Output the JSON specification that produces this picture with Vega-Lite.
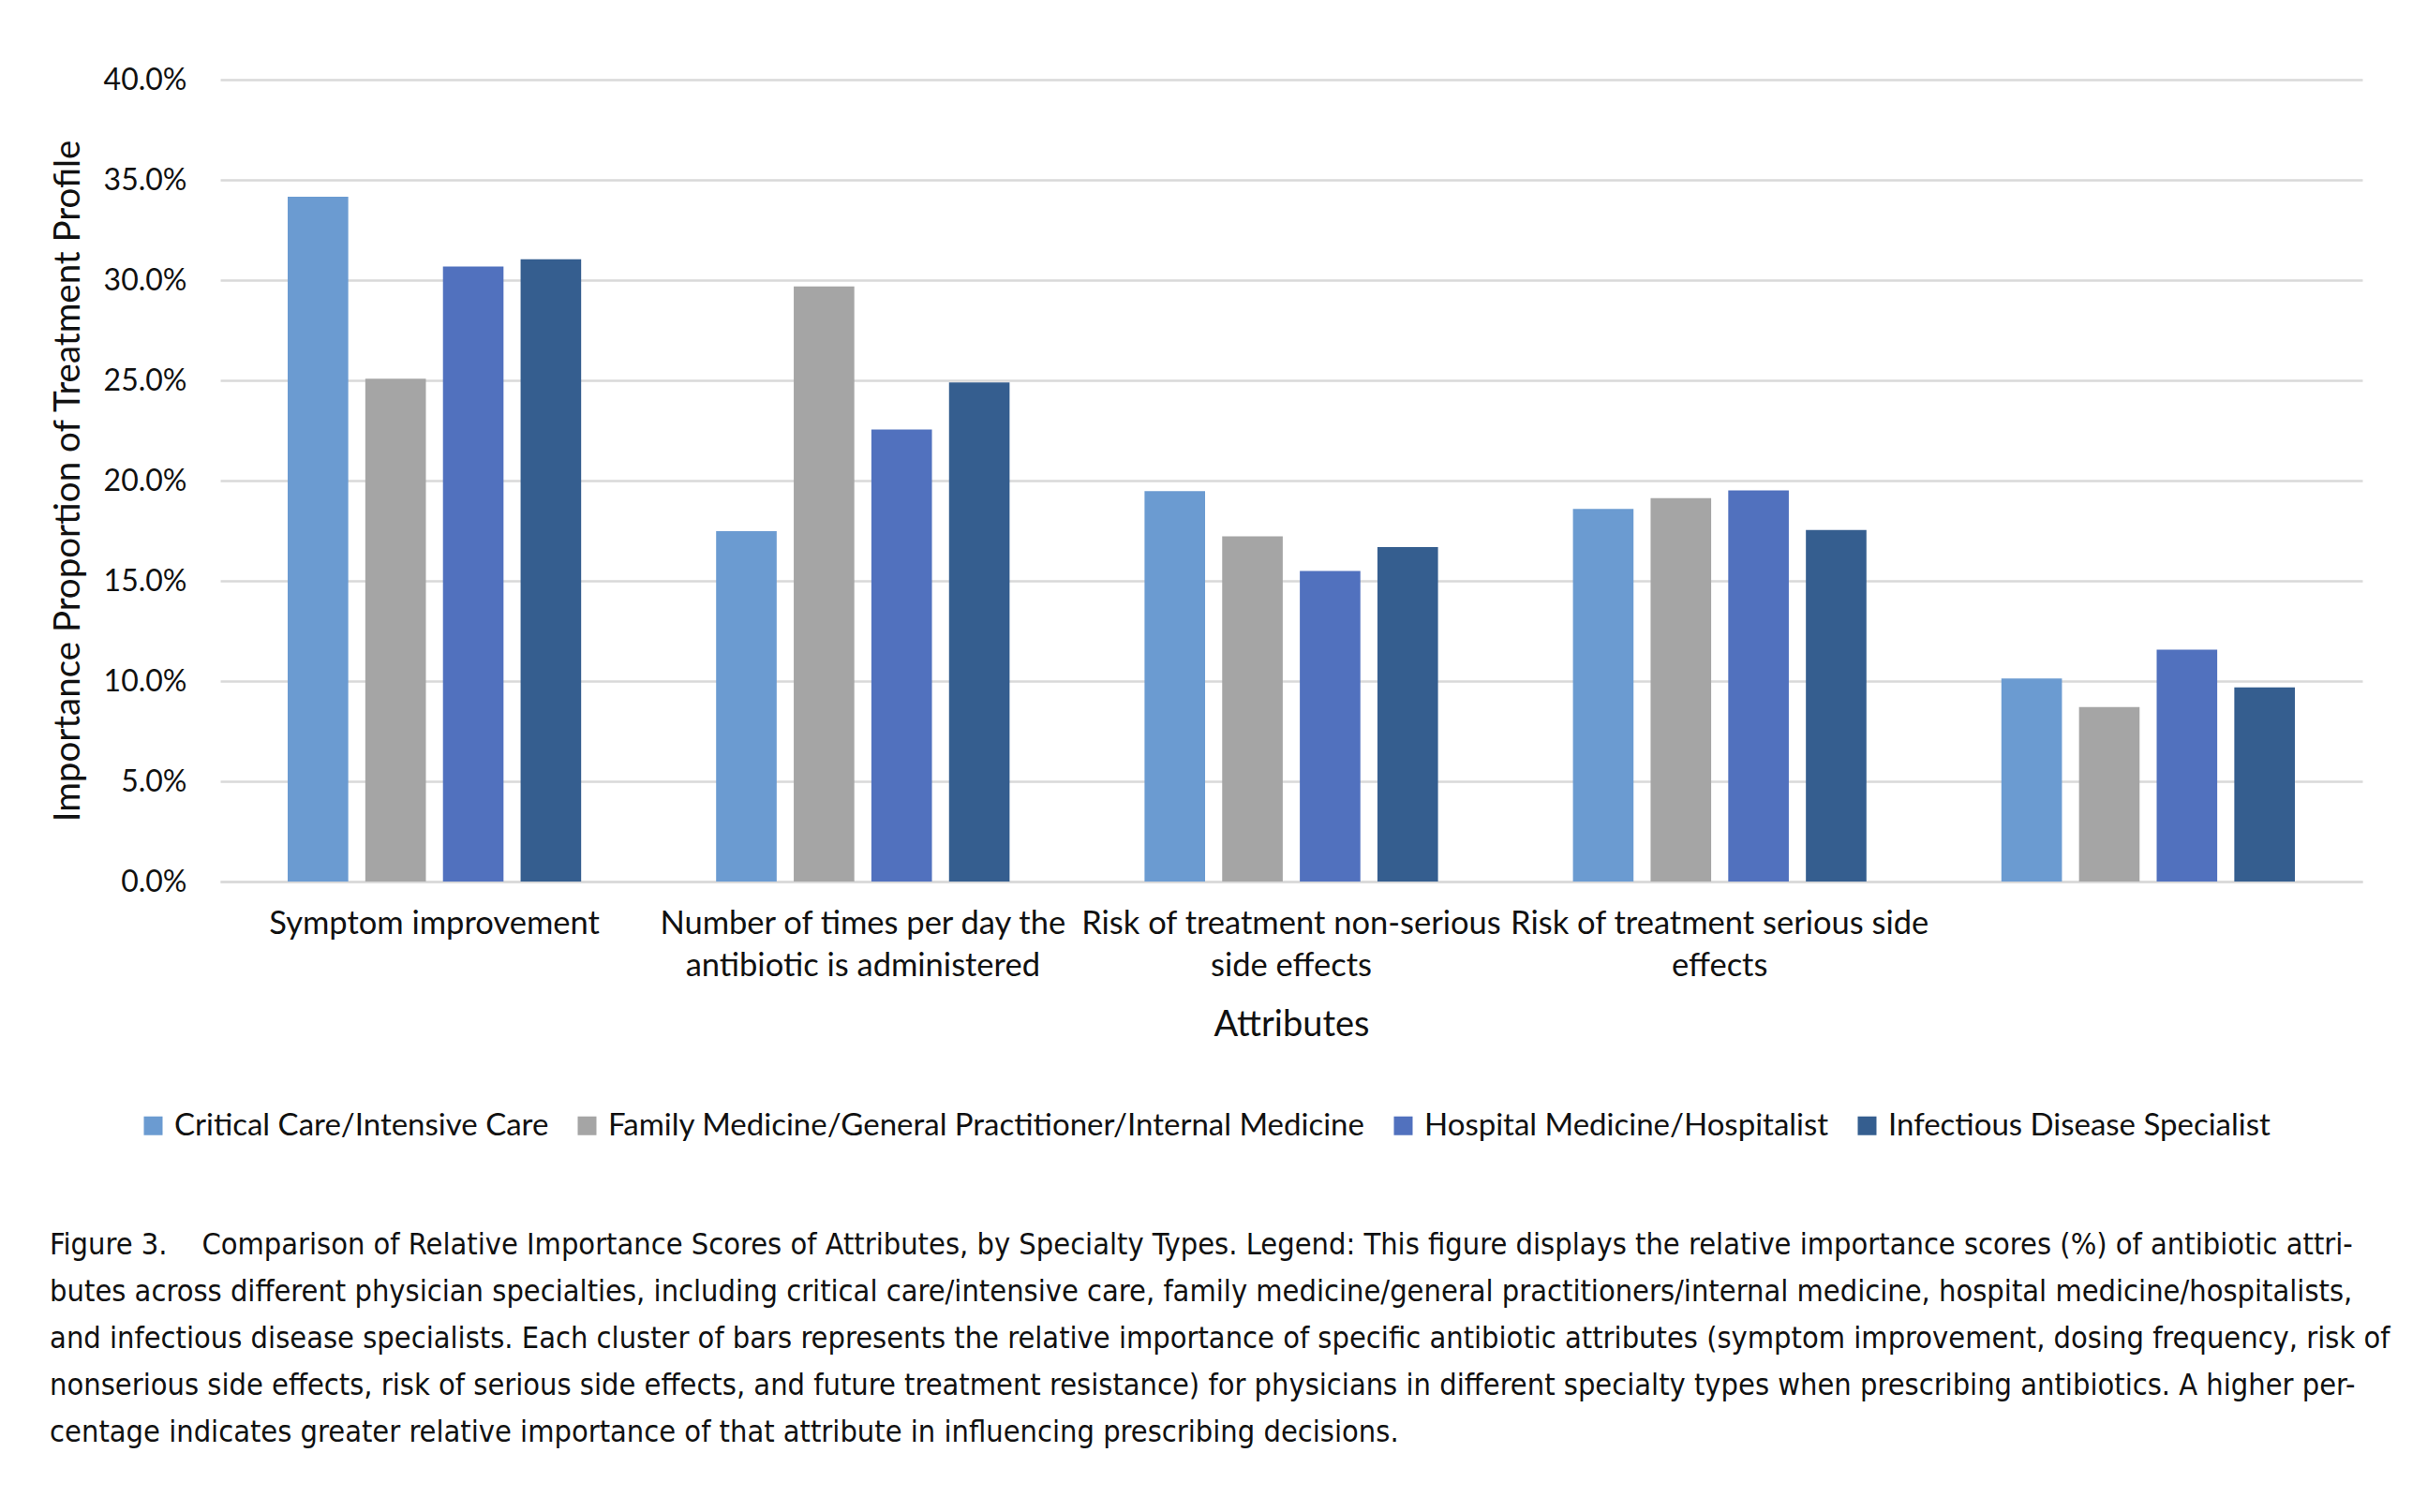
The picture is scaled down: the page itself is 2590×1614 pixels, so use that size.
{
  "$schema": "https://vega.github.io/schema/vega-lite/v6.json",
  "autosize": {"type": "none"},
  "width": 2286,
  "height": 856,
  "padding": {"left": 235, "top": 85, "right": 69, "bottom": 673},
  "background": "white",
  "config": {
    "view": {"stroke": null},
    "font": "Lato",
    "bar": {"stroke": null}
  },
  "data": {
    "values": [
      {"attribute": "Symptom improvement", "specialty": "Critical Care/Intensive Care", "value": 0.3416},
      {"attribute": "Symptom improvement", "specialty": "Family Medicine/General Practitioner/Internal Medicine", "value": 0.2508},
      {"attribute": "Symptom improvement", "specialty": "Hospital Medicine/Hospitalist", "value": 0.3068},
      {"attribute": "Symptom improvement", "specialty": "Infectious Disease Specialist", "value": 0.3104},
      {"attribute": "Number of times per day the antibiotic is administered", "specialty": "Critical Care/Intensive Care", "value": 0.1748},
      {"attribute": "Number of times per day the antibiotic is administered", "specialty": "Family Medicine/General Practitioner/Internal Medicine", "value": 0.2969},
      {"attribute": "Number of times per day the antibiotic is administered", "specialty": "Hospital Medicine/Hospitalist", "value": 0.2255},
      {"attribute": "Number of times per day the antibiotic is administered", "specialty": "Infectious Disease Specialist", "value": 0.2490},
      {"attribute": "Risk of treatment non-serious side effects", "specialty": "Critical Care/Intensive Care", "value": 0.1948},
      {"attribute": "Risk of treatment non-serious side effects", "specialty": "Family Medicine/General Practitioner/Internal Medicine", "value": 0.1722},
      {"attribute": "Risk of treatment non-serious side effects", "specialty": "Hospital Medicine/Hospitalist", "value": 0.1549},
      {"attribute": "Risk of treatment non-serious side effects", "specialty": "Infectious Disease Specialist", "value": 0.1668},
      {"attribute": "Risk of treatment serious side effects", "specialty": "Critical Care/Intensive Care", "value": 0.1859},
      {"attribute": "Risk of treatment serious side effects", "specialty": "Family Medicine/General Practitioner/Internal Medicine", "value": 0.1912},
      {"attribute": "Risk of treatment serious side effects", "specialty": "Hospital Medicine/Hospitalist", "value": 0.1951},
      {"attribute": "Risk of treatment serious side effects", "specialty": "Infectious Disease Specialist", "value": 0.1754},
      {"attribute": "Future treatment resistance", "specialty": "Critical Care/Intensive Care", "value": 0.1013},
      {"attribute": "Future treatment resistance", "specialty": "Family Medicine/General Practitioner/Internal Medicine", "value": 0.0870},
      {"attribute": "Future treatment resistance", "specialty": "Hospital Medicine/Hospitalist", "value": 0.1156},
      {"attribute": "Future treatment resistance", "specialty": "Infectious Disease Specialist", "value": 0.0968}
    ]
  },
  "mark": {"type": "bar"},
  "encoding": {
    "x": {
      "field": "attribute",
      "type": "nominal",
      "sort": ["Symptom improvement", "Number of times per day the antibiotic is administered", "Risk of treatment non-serious side effects", "Risk of treatment serious side effects", "Future treatment resistance"],
      "scale": {"paddingInner": 0.315, "paddingOuter": 0.1575},
      "axis": {
        "title": "Attributes",
        "titleFont": "Lato",
        "titleFontSize": 38,
        "titleFontWeight": "normal",
        "titleColor": "#111111",
        "titlePadding": 28,
        "labelAngle": 0,
        "labelFont": "Lato",
        "labelFontSize": 34.5,
        "labelColor": "#111111",
        "labelPadding": 28,
        "labelLimit": 0,
        "labelLineHeight": 45,
        "labelBaseline": "top",
        "labelExpr": "datum.label == 'Number of times per day the antibiotic is administered' ? ['Number of times per day the', 'antibiotic is administered'] : datum.label == 'Risk of treatment non-serious side effects' ? ['Risk of treatment non-serious', 'side effects'] : datum.label == 'Risk of treatment serious side effects' ? ['Risk of treatment serious side', 'effects'] : datum.label == 'Future treatment resistance' ? '' : datum.label",
        "ticks": false,
        "domain": true,
        "domainColor": "#D9D9D9",
        "domainWidth": 2.5,
        "grid": false
      }
    },
    "xOffset": {
      "field": "specialty",
      "sort": ["Critical Care/Intensive Care", "Family Medicine/General Practitioner/Internal Medicine", "Hospital Medicine/Hospitalist", "Infectious Disease Specialist"],
      "scale": {"paddingInner": 0.22, "paddingOuter": 0}
    },
    "y": {
      "field": "value",
      "type": "quantitative",
      "scale": {"domain": [0, 0.4], "nice": false},
      "axis": {
        "title": "Importance Proportion of Treatment Profile",
        "titleFont": "Lato",
        "titleFontSize": 38.5,
        "titleFontWeight": "normal",
        "titleColor": "#111111",
        "titlePadding": 18,
        "format": ".1%",
        "values": [0, 0.05, 0.1, 0.15, 0.2, 0.25, 0.3, 0.35, 0.4],
        "labelFont": "Lato",
        "labelFontSize": 32,
        "labelColor": "#111111",
        "labelPadding": 36,
        "ticks": false,
        "domain": false,
        "grid": true,
        "gridColor": "#D9D9D9",
        "gridWidth": 2.5
      }
    },
    "color": {
      "field": "specialty",
      "type": "nominal",
      "scale": {
        "domain": ["Critical Care/Intensive Care", "Family Medicine/General Practitioner/Internal Medicine", "Hospital Medicine/Hospitalist", "Infectious Disease Specialist"],
        "range": ["#6B9BD1", "#A5A5A5", "#5171BE", "#355E8F"]
      },
      "legend": {
        "title": null,
        "orient": "none",
        "direction": "horizontal",
        "legendX": -88,
        "legendY": 1100,
        "symbolType": "square",
        "symbolSize": 400,
        "symbolStrokeWidth": 0,
        "labelFont": "Lato",
        "labelFontSize": 33,
        "labelColor": "#111111",
        "labelOffset": 6,
        "labelLimit": 0,
        "columnPadding": 24
      }
    }
  },
  "title": {
    "text": [
      "Figure 3.\u00a0\u00a0\u00a0\u00a0Comparison of Relative Importance Scores of Attributes, by Specialty Types. Legend: This figure displays the relative importance scores (%) of antibiotic attri-",
      "butes across different physician specialties, including critical care/intensive care, family medicine/general practitioners/internal medicine, hospital medicine/hospitalists,",
      "and infectious disease specialists. Each cluster of bars represents the relative importance of specific antibiotic attributes (symptom improvement, dosing frequency, risk of",
      "nonserious side effects, risk of serious side effects, and future treatment resistance) for physicians in different specialty types when prescribing antibiotics. A higher per-",
      "centage indicates greater relative importance of that attribute in influencing prescribing decisions."
    ],
    "orient": "bottom",
    "anchor": "start",
    "frame": "bounds",
    "align": "left",
    "font": "DejaVu Sans Condensed, sans-serif",
    "fontSize": 32.3,
    "fontWeight": "normal",
    "color": "#111111",
    "lineHeight": 50,
    "offset": 94
  }
}
